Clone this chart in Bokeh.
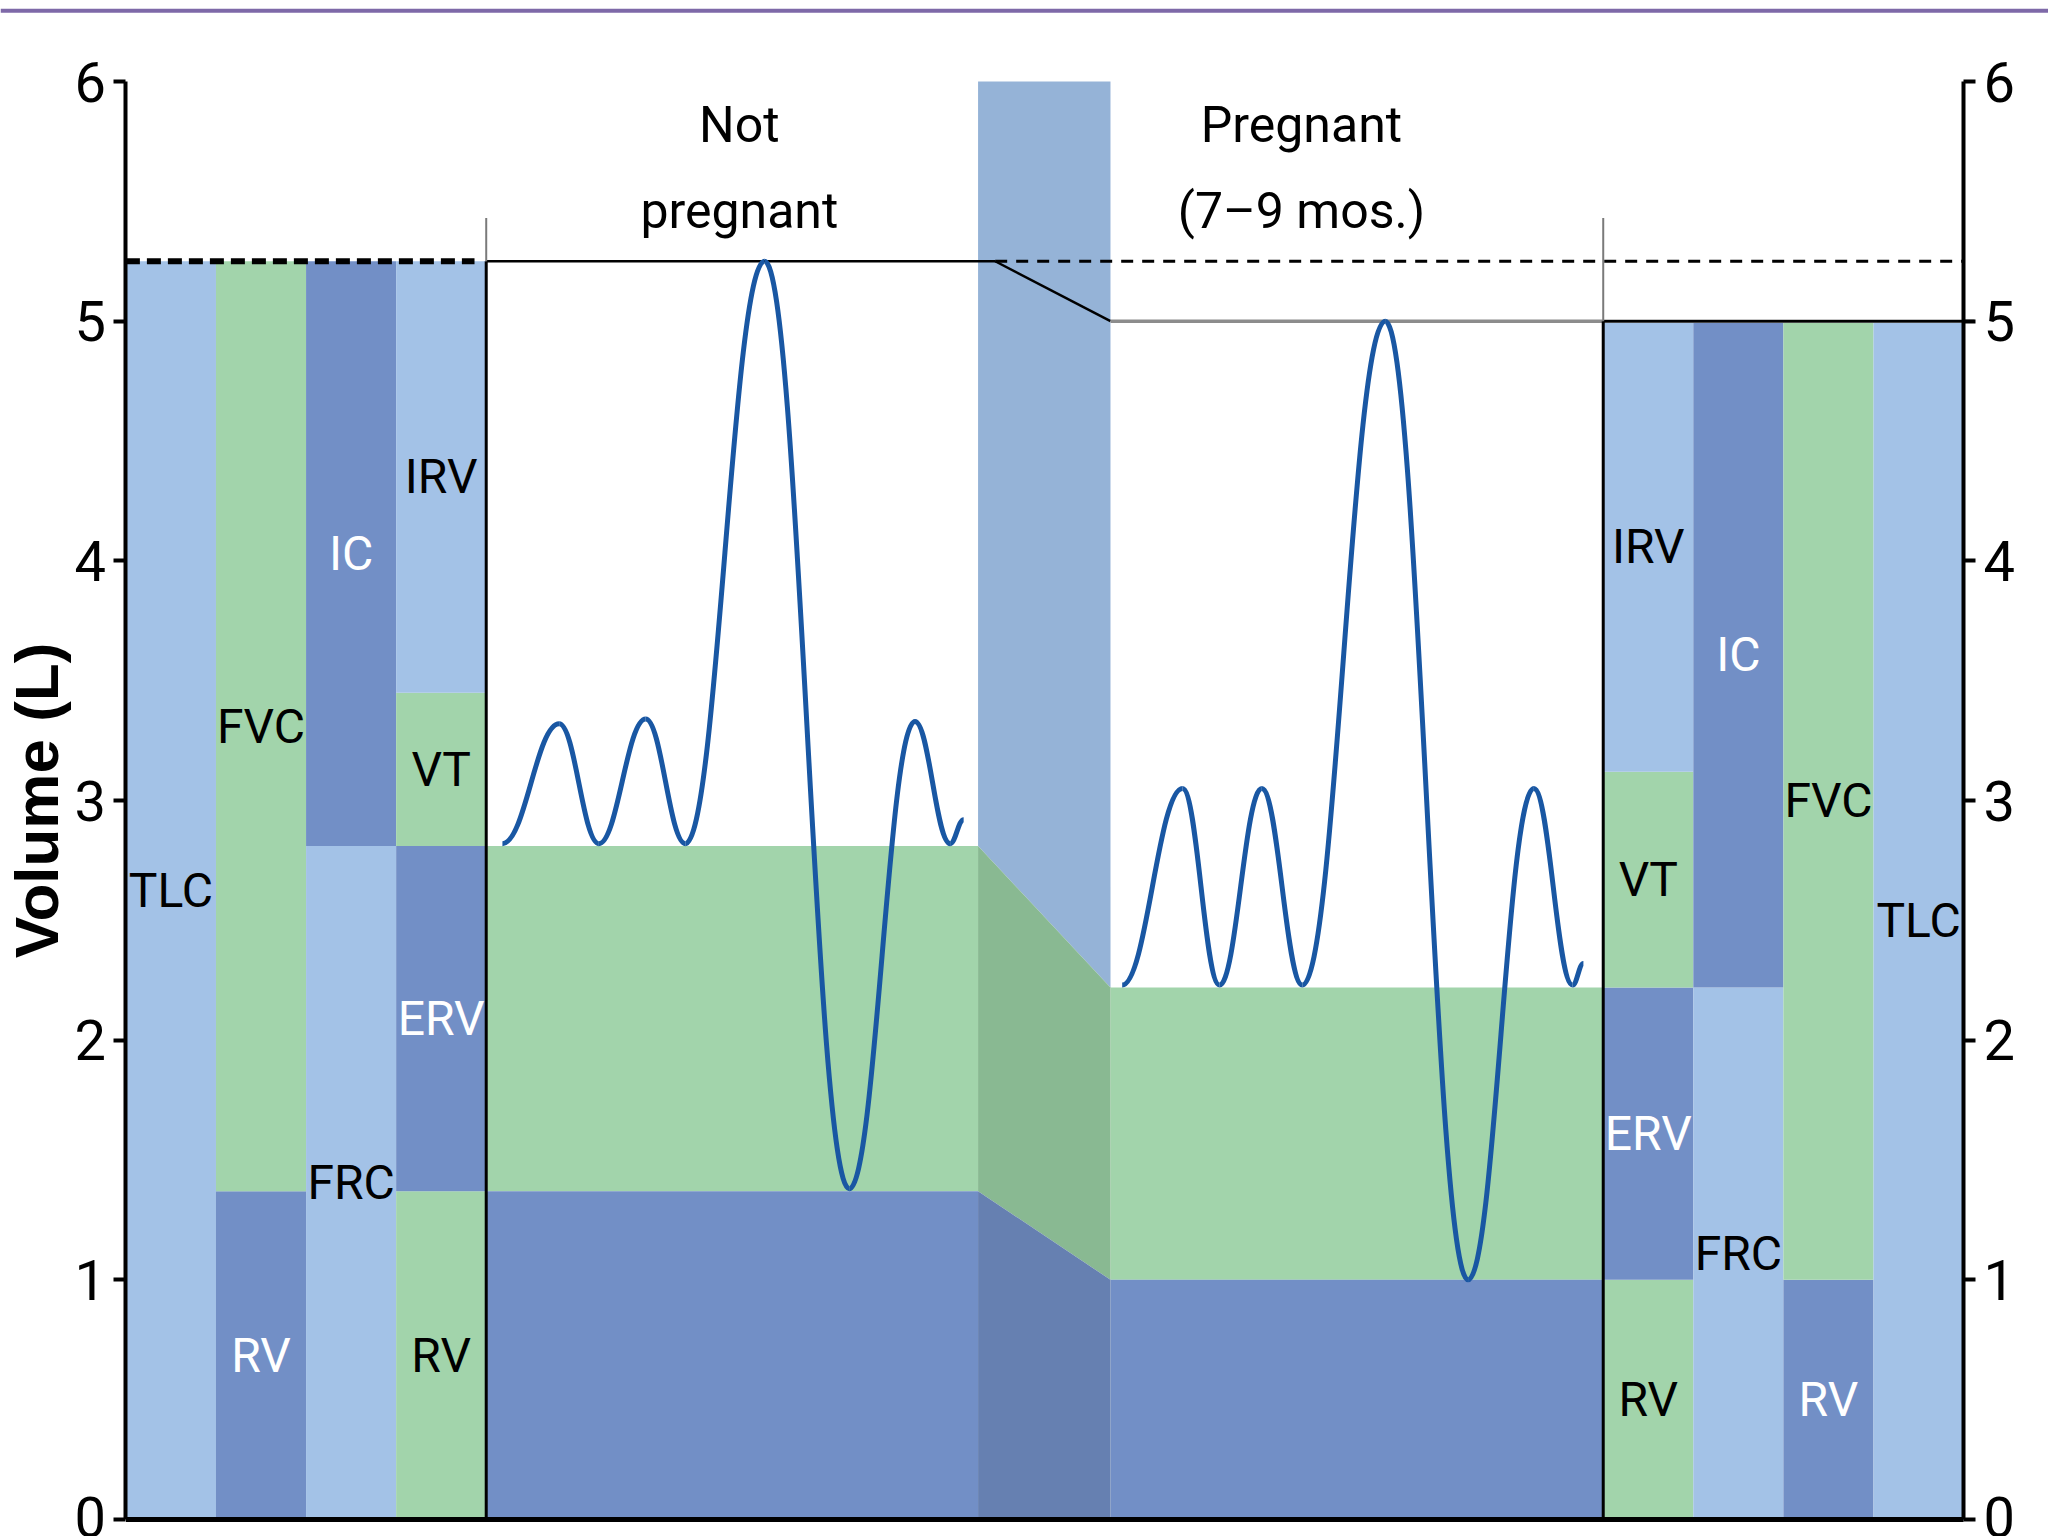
from bokeh.plotting import figure
from bokeh.models import LinearAxis, FixedTicker
from bokeh.core.properties import value
from bokeh.embed import file_html
from bokeh.resources import INLINE

# ---------------- data ----------------
y_ticks = [0, 1, 2, 3, 4, 5, 6]

# Not pregnant lung volumes (L)
np_rv = 1.37
np_frc = 2.81
np_vt_top = 3.45
np_tlc = 5.25
# Pregnant (7-9 months) lung volumes (L)
pg_rv = 1.00
pg_frc = 2.22
pg_vt_top = 3.12
pg_tlc = 5.00

# column layout (x in column-width units)
left_cols = [0, 1, 2, 3, 4]
trans_x = [9.46, 10.93]
right_cols = [16.4, 17.4, 18.4, 19.4, 20.4]

# spirogram extrema (x, L)
np_wave_x = [4.18, 4.81, 5.25, 5.77, 6.21, 7.09, 8.03, 8.76, 9.15, 9.30]
np_wave_y = [2.82, 3.32, 2.82, 3.34, 2.82, 5.25, 1.38, 3.33, 2.82, 2.92]
pg_wave_x = [11.06, 11.73, 12.14, 12.61, 13.06, 13.98, 14.90, 15.63, 16.06, 16.18]
pg_wave_y = [2.23, 3.05, 2.23, 3.05, 2.23, 5.00, 1.00, 3.05, 2.23, 2.32]

# ---------------- styles ----------------
LIGHT = "#a3c2e7"
GREEN = "#a2d4ab"
DARK = "#728fc6"
TCOL = "#95b3d7"
TGREEN = "#89b992"
TDARK = "#6680b1"
WAVE = "#1957a3"
PURPLE = "#7e69a8"
FONT = "Roboto"

W, H = 2048, 1536
X0, X1 = -1.392, 21.343
p = figure(width=W, height=H, output_backend="svg", toolbar_location=None,
           x_range=(X0, X1), y_range=(-0.0709, 6.338),
           x_axis_location=None, y_axis_location=None, min_border=0,
           tools="")
p.outline_line_color = None
p.background_fill_color = "white"
p.grid.grid_line_color = None

# ---------- stacked columns ----------
L, R, B, T, C, LAB, TC = [], [], [], [], [], [], []
def add(x0, x1, segs):
    for (b, t, c, lab, tc) in segs:
        L.append(x0); R.append(x1); B.append(b); T.append(t)
        C.append(c); LAB.append(lab); TC.append(tc)

# left block (not pregnant)
add(left_cols[0], left_cols[1], [(0, np_tlc, LIGHT, "TLC", "black")])
add(left_cols[1], left_cols[2], [(0, np_rv, DARK, "RV", "white"),
                                 (np_rv, np_tlc, GREEN, "FVC", "black")])
add(left_cols[2], left_cols[3], [(0, np_frc, LIGHT, "FRC", "black"),
                                 (np_frc, np_tlc, DARK, "IC", "white")])
add(left_cols[3], left_cols[4], [(0, np_rv, GREEN, "RV", "black"),
                                 (np_rv, np_frc, DARK, "ERV", "white"),
                                 (np_frc, np_vt_top, GREEN, "VT", "black"),
                                 (np_vt_top, np_tlc, LIGHT, "IRV", "black")])
# right block (pregnant)
add(right_cols[0], right_cols[1], [(0, pg_rv, GREEN, "RV", "black"),
                                   (pg_rv, pg_frc, DARK, "ERV", "white"),
                                   (pg_frc, pg_vt_top, GREEN, "VT", "black"),
                                   (pg_vt_top, pg_tlc, LIGHT, "IRV", "black")])
add(right_cols[1], right_cols[2], [(0, pg_frc, LIGHT, "FRC", "black"),
                                   (pg_frc, pg_tlc, DARK, "IC", "white")])
add(right_cols[2], right_cols[3], [(0, pg_rv, DARK, "RV", "white"),
                                   (pg_rv, pg_tlc, GREEN, "FVC", "black")])
add(right_cols[3], right_cols[4], [(0, pg_tlc, LIGHT, "TLC", "black")])

p.quad(left=L, right=R, bottom=B, top=T, fill_color=C, line_color=None)

# middle bands
p.quad(left=[left_cols[4], trans_x[1]], right=[trans_x[0], right_cols[0]],
       bottom=[np_rv, pg_rv], top=[np_frc, pg_frc], fill_color=GREEN, line_color=None)
p.quad(left=[left_cols[4], trans_x[1]], right=[trans_x[0], right_cols[0]],
       bottom=[0, 0], top=[np_rv, pg_rv], fill_color=DARK, line_color=None)

# transition column
tx = [trans_x[0], trans_x[1], trans_x[1], trans_x[0]]
p.patches(xs=[tx, tx, tx],
          ys=[[y_ticks[-1], y_ticks[-1], pg_frc, np_frc],
              [np_frc, pg_frc, pg_rv, np_rv],
              [np_rv, pg_rv, 0, 0]],
          fill_color=[TCOL, TGREEN, TDARK], line_color=None)

# top lines
p.segment(x0=[left_cols[4]], y0=[np_tlc], x1=[9.65], y1=[np_tlc], line_color="black", line_width=2.5)
p.segment(x0=[9.65], y0=[np_tlc], x1=[trans_x[1]], y1=[pg_tlc], line_color="black", line_width=2.5)
p.segment(x0=[trans_x[1]], y0=[pg_tlc], x1=[right_cols[-1] + 0.12], y1=[pg_tlc], line_color="#8c8c8c", line_width=3.5)
p.segment(x0=[right_cols[0]], y0=[pg_tlc], x1=[right_cols[-1]], y1=[pg_tlc], line_color="black", line_width=2.5)
p.segment(x0=[9.65], y0=[np_tlc], x1=[right_cols[-1]], y1=[np_tlc], line_color="black", line_width=3, line_dash="12 9")
p.segment(x0=[left_cols[0]], y0=[np_tlc], x1=[3.87], y1=[np_tlc], line_color="black", line_width=6, line_dash="14 7")

# vertical dividers
p.segment(x0=[left_cols[4], right_cols[0]], y0=[0, 0], x1=[left_cols[4], right_cols[0]], y1=[np_tlc, pg_tlc],
          line_color="black", line_width=3)
p.segment(x0=[left_cols[4], right_cols[0]], y0=[np_tlc, pg_tlc], x1=[left_cols[4], right_cols[0]], y1=[5.43, 5.43],
          line_color="#7a7a7a", line_width=2)

# bottom line
p.segment(x0=[left_cols[0]], y0=[0], x1=[right_cols[-1]], y1=[0], line_color="black", line_width=5)

# purple rule at the top
p.segment(x0=[X0], y0=[6.295], x1=[X1], y1=[6.295], line_color=PURPLE, line_width=4)

# spirogram waves as smooth bezier pieces between extrema
def waves(xs, ys, k=0.40):
    d = dict(x0=[], y0=[], x1=[], y1=[], cx0=[], cy0=[], cx1=[], cy1=[])
    for i in range(len(xs) - 1):
        dx = xs[i + 1] - xs[i]
        d["x0"].append(xs[i]); d["y0"].append(ys[i])
        d["x1"].append(xs[i + 1]); d["y1"].append(ys[i + 1])
        d["cx0"].append(xs[i] + k * dx); d["cy0"].append(ys[i])
        d["cx1"].append(xs[i + 1] - k * dx); d["cy1"].append(ys[i + 1])
    return d

for xs, ys in [(np_wave_x, np_wave_y), (pg_wave_x, pg_wave_y)]:
    p.bezier(**waves(xs, ys), line_color=WAVE, line_width=5)

# labels inside the columns
p.text(x=[(l + r) / 2 for l, r in zip(L, R)], y=[(b + t) / 2 for b, t in zip(B, T)], text=LAB,
       text_color=TC, text_font=value(FONT), text_font_size="48px",
       text_align="center", text_baseline="middle")

# titles
p.text(x=[6.81, 6.81, 13.05, 13.05], y=[5.82, 5.46, 5.82, 5.46],
       text=["Not", "pregnant", "Pregnant", "(7\u20139 mos.)"],
       text_color="black", text_font=value(FONT), text_font_size="50px",
       text_align="center", text_baseline="middle")

# axes
for loc, side in [(left_cols[0], "left"), (right_cols[-1], "right")]:
    ax = LinearAxis(fixed_location=loc, ticker=FixedTicker(ticks=y_ticks), bounds=(0, 6))
    ax.axis_line_width = 4
    ax.axis_line_color = "black"
    ax.major_tick_line_width = 4
    ax.major_tick_out = 12
    ax.major_tick_in = 0
    ax.minor_tick_line_color = None
    ax.major_label_text_font = FONT
    ax.major_label_text_font_size = "56px"
    ax.major_label_text_color = "black"
    ax.major_label_standoff = 8
    if side == "left":
        ax.axis_label = "Volume (L)"
        ax.axis_label_text_font = "Liberation Sans"
        ax.axis_label_text_font_style = "bold"
        ax.axis_label_text_font_size = "62px"
        ax.axis_label_text_color = "black"
        ax.axis_label_standoff = 0
    p.add_layout(ax, side)

open("out.html", "w").write(file_html(p, INLINE))
